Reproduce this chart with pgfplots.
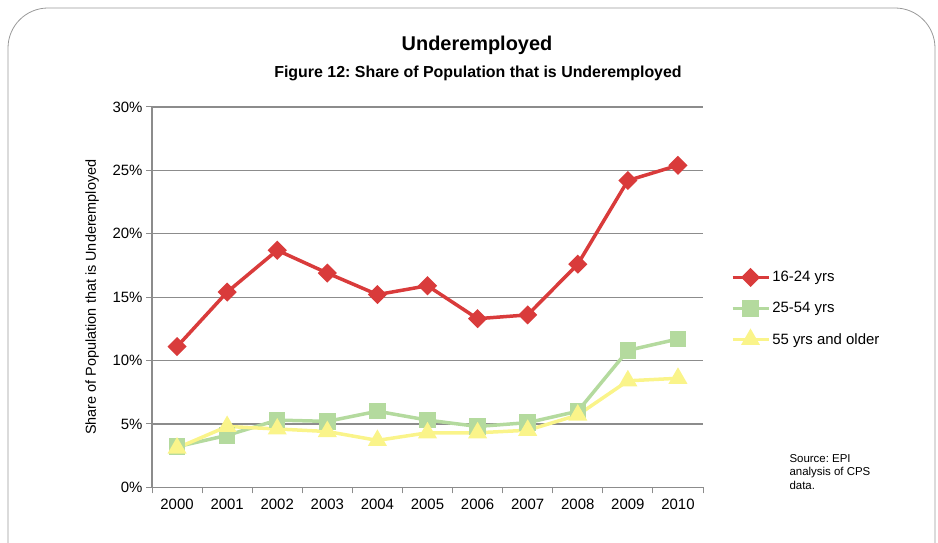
\documentclass[border=0pt]{standalone}
\usepackage{pgfplots}
\pgfplotsset{compat=1.18}
\usepackage{fontspec}
\setmainfont{Liberation Sans}
\frenchspacing
\definecolor{cred}{HTML}{D93B3B}
\definecolor{cgreen}{HTML}{B4DA9E}
\definecolor{cyellow}{HTML}{FAF48A}
\definecolor{cgrid}{HTML}{8C8C8C}
\begin{document}
\begin{tikzpicture}
\useasboundingbox (0bp,0bp) rectangle (938bp,543bp);
\begin{scope}
\clip (0bp,0bp) rectangle (938bp,543bp);
\draw[color=gray!80, line width=0.8bp, rounded corners=40bp] (8bp,-40bp) rectangle (935bp,535bp);
\end{scope}
\node[font=\bfseries\fontsize{20}{24}\selectfont] at (477bp,498bp) {Underemployed};
\node[font=\bfseries\fontsize{16}{19}\selectfont] at (478bp,470bp) {Figure 12: Share of Population that is Underemployed};
\node[font=\fontsize{11.5}{13.5}\selectfont, align=left, anchor=north west] at (786bp,92bp) {Source: EPI\\analysis of CPS\\data.};
\begin{axis}[
  at={(152bp,55.7bp)}, anchor=south west,
  scale only axis, width=551bp, height=380.3bp,
  xmin=1999.5, xmax=2010.5, ymin=0, ymax=30,
  axis x line=bottom, axis y line=left,
  axis line style={-, draw=cgrid, line width=1.2bp},
  xtick={2000,2001,...,2010},
  major x tick style={draw=none},
  minor xtick={1999.5,2000.5,...,2010.5},
  minor x tick style={draw=cgrid, line width=1bp},
  minor tick length=6bp,
  ytick={0,5,...,30},
  major y tick style={draw=cgrid, line width=1bp},
  major tick length=6bp,
  tick align=outside,
  ymajorgrids, grid style={draw=cgrid, line width=1.2bp},
  /pgf/number format/assume math mode=true,
  xticklabel style={/pgf/number format/1000 sep={}, font=\fontsize{15}{18}\selectfont, yshift=-2bp},
  yticklabel={\pgfmathprintnumber{\tick}\%},
  yticklabel style={font=\fontsize{15}{18}\selectfont},
  ylabel={Share of Population that is Underemployed},
  ylabel style={font=\fontsize{14.5}{17}\selectfont, at={(axis description cs:-0.09,0.5)}},
  legend style={draw=none, fill=none, at={(1.05,0.47)}, anchor=west,
    font=\fontsize{15}{18}\selectfont, row sep=15bp, inner sep=0pt},
  legend cell align=left,
  legend image code/.code={\draw[#1] (0bp,0bp) -- (18bp,0bp) -- (36bp,0bp);
    \path[#1] plot coordinates {(18bp,0bp)};},
  clip=false,
]
\addplot[cred, line width=3.5bp, mark=square*, mark size=5bp, mark options={solid, rotate=45}] coordinates {
(2000,11.1)(2001,15.4)(2002,18.7)(2003,16.9)(2004,15.2)(2005,15.9)(2006,13.3)(2007,13.6)(2008,17.6)(2009,24.2)(2010,25.4)};
\addlegendentry{16-24 yrs}
\addplot[cgreen, line width=3.5bp, mark=square*, mark size=6.5bp] coordinates {
(2000,3.2)(2001,4.1)(2002,5.3)(2003,5.2)(2004,6.0)(2005,5.3)(2006,4.8)(2007,5.1)(2008,6.0)(2009,10.8)(2010,11.7)};
\addlegendentry{25-54 yrs}
\addplot[cyellow, line width=3.5bp, mark=triangle*, mark size=7.5bp] coordinates {
(2000,3.1)(2001,4.8)(2002,4.6)(2003,4.4)(2004,3.7)(2005,4.3)(2006,4.3)(2007,4.5)(2008,5.7)(2009,8.4)(2010,8.6)};
\addlegendentry{55 yrs and older}
\end{axis}
\end{tikzpicture}
\end{document}
